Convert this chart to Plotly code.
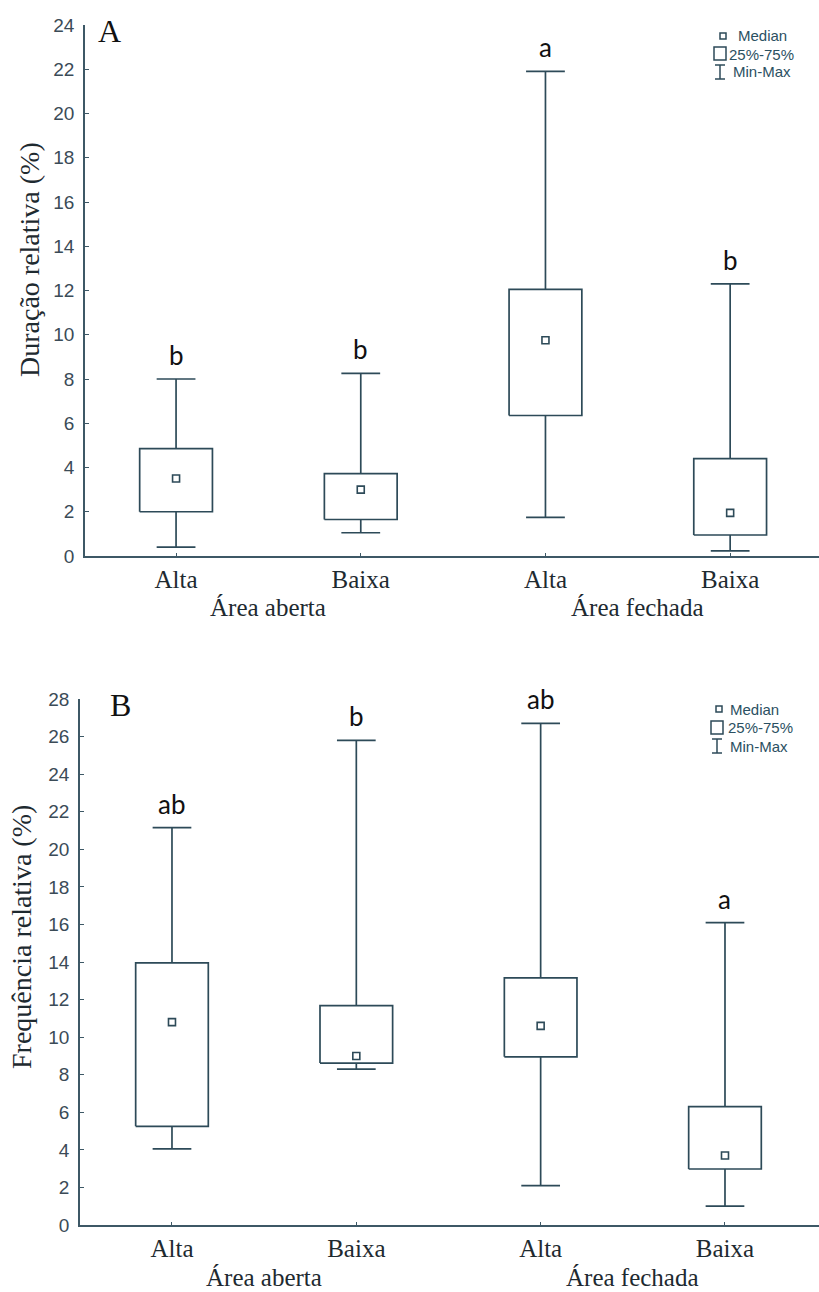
import plotly.graph_objects as go

W, H = 819, 1292

# Shared category labels
categories = ["Alta", "Baixa", "Alta", "Baixa"]
groups = ["Área aberta", "Área fechada"]

# Panel A: Duração relativa (%)
dur_min = [0.4, 1.05, 1.75, 0.23]
dur_q1 = [2.0, 1.65, 6.35, 0.95]
dur_med = [3.5, 3.0, 9.75, 1.95]
dur_q3 = [4.85, 3.72, 12.05, 4.4]
dur_max = [8.0, 8.25, 21.9, 12.3]
dur_letters = ["b", "b", "a", "b"]

# Panel B: Frequência relativa (%)
freq_min = [4.05, 8.3, 2.1, 1.0]
freq_q1 = [5.25, 8.62, 8.95, 2.98]
freq_med = [10.8, 9.0, 10.6, 3.7]
freq_q3 = [13.95, 11.68, 13.15, 6.3]
freq_max = [21.15, 25.8, 26.7, 16.1]
freq_letters = ["ab", "b", "ab", "a"]

LINE = "#2d4a58"
AXIS = "#3d5866"
TICKFONT = dict(family="Liberation Sans, Arial", size=19, color="#3b4b57")
SERIF = "Liberation Serif, Times New Roman"
TXT = "#1e2a30"


def px(x):
    return x / W


def py(y):
    return 1 - y / H


fig = go.Figure()


def add_panel(xa, ya, mins, q1s, meds, q3s, maxs, letters):
    hw, cw = 0.197, 0.105
    bx, by, wx, wy, cx, cy = [], [], [], [], [], []
    for i in range(len(categories)):
        bx += [i - hw, i + hw, i + hw, i - hw, i - hw, None]
        by += [q1s[i], q1s[i], q3s[i], q3s[i], q1s[i], None]
        wx += [i, i, None, i, i, None]
        wy += [mins[i], q1s[i], None, q3s[i], maxs[i], None]
        cx += [i - cw, i + cw, None, i - cw, i + cw, None]
        cy += [mins[i], mins[i], None, maxs[i], maxs[i], None]
    for xs, ys in ((wx, wy), (cx, cy), (bx, by)):
        fig.add_trace(go.Scatter(x=xs, y=ys, xaxis=xa, yaxis=ya, mode="lines",
                                 line=dict(color=LINE, width=1.7),
                                 showlegend=False, hoverinfo="skip"))
    fig.add_trace(go.Scatter(x=list(range(len(categories))), y=meds, xaxis=xa, yaxis=ya,
                             mode="markers",
                             marker=dict(symbol="square-open", size=7,
                                         color=LINE, line=dict(width=1.6)),
                             showlegend=False))
    for i, t in enumerate(letters):
        fig.add_annotation(x=i, y=maxs[i], xref=xa, yref=ya, text=t,
                           showarrow=False, xanchor="center", yanchor="middle", yshift=24,
                           font=dict(family="Lato, Open Sans", size=26, color="#111"))


add_panel("x", "y", dur_min, dur_q1, dur_med, dur_q3, dur_max, dur_letters)
add_panel("x2", "y2", freq_min, freq_q1, freq_med, freq_q3, freq_max, freq_letters)

xcommon = dict(tickmode="array", tickvals=list(range(4)), ticktext=categories,
               showgrid=False, zeroline=False, showline=True, linecolor=AXIS,
               linewidth=1.7, ticks="inside", ticklen=3, tickcolor=AXIS,
               tickfont=dict(family=SERIF, size=25, color=TXT),
               automargin=False, fixedrange=True)
ycommon = dict(showgrid=False, zeroline=False, showline=True, linecolor=AXIS,
               linewidth=1.7, ticks="inside", ticklen=4, tickcolor=AXIS,
               tickfont=TICKFONT, dtick=2, ticklabelstandoff=5,
               automargin=False, fixedrange=True)

fig.update_layout(
    width=W, height=H, margin=dict(l=0, r=0, t=0, b=0, pad=0, autoexpand=False),
    paper_bgcolor="white", plot_bgcolor="white", showlegend=False,
    xaxis=dict(xcommon, domain=[px(85), 1], range=[-0.493, 3.481], anchor="y"),
    yaxis=dict(ycommon, domain=[py(556), py(25)], range=[0, 24], anchor="x"),
    xaxis2=dict(xcommon, domain=[px(80), 1], range=[-0.499, 3.51], anchor="y2"),
    yaxis2=dict(ycommon, domain=[py(1225), py(699)], range=[0, 28], anchor="x2"),
)

# Group labels under the category ticks
for xa, ypix in (("x", 607), ("x2", 1277)):
    for g, xc in zip(groups, (0.5, 2.5)):
        fig.add_annotation(x=xc, xref=xa, y=py(ypix), yref="paper", text=g,
                           showarrow=False, xanchor="center", yanchor="middle",
                           font=dict(family=SERIF, size=25, color=TXT))

# Axis titles
fig.add_annotation(x=px(29), y=py(260), xref="paper", yref="paper",
                   text="Duração relativa (%)", textangle=-90, showarrow=False,
                   xanchor="center", yanchor="middle",
                   font=dict(family=SERIF, size=28, color=TXT))
fig.add_annotation(x=px(21), y=py(937), xref="paper", yref="paper",
                   text="Frequência relativa (%)", textangle=-90, showarrow=False,
                   xanchor="center", yanchor="middle",
                   font=dict(family=SERIF, size=28, color=TXT))

# Panel letters
fig.add_annotation(x=px(109), y=py(31), xref="paper", yref="paper", text="A",
                   showarrow=False, xanchor="center", yanchor="middle",
                   font=dict(family=SERIF, size=32, color="#111"))
fig.add_annotation(x=px(120), y=py(705), xref="paper", yref="paper", text="B",
                   showarrow=False, xanchor="center", yanchor="middle",
                   font=dict(family=SERIF, size=32, color="#111"))


# Key: median marker, quartile box, min-max whisker
def add_key(mx, bxc, rows, tx):
    lf = dict(family="Liberation Sans, Arial", size=15, color="#2b5062")
    shp = dict(xref="paper", yref="paper", line=dict(color=LINE, width=1.5))
    y0, y1, y2 = rows
    fig.add_shape(type="rect", x0=px(mx - 3), x1=px(mx + 3), y0=py(y0 - 3), y1=py(y0 + 3), **shp)
    fig.add_shape(type="rect", x0=px(bxc - 6), x1=px(bxc + 6), y0=py(y1 - 7), y1=py(y1 + 6), **shp)
    fig.add_shape(type="line", x0=px(bxc), x1=px(bxc), y0=py(y2 - 7), y1=py(y2 + 7), **shp)
    fig.add_shape(type="line", x0=px(bxc - 5), x1=px(bxc + 5), y0=py(y2 - 7), y1=py(y2 - 7), **shp)
    fig.add_shape(type="line", x0=px(bxc - 5), x1=px(bxc + 5), y0=py(y2 + 7), y1=py(y2 + 7), **shp)
    for t, yy, xx in zip(("Median", "25%-75%", "Min-Max"), rows, tx):
        fig.add_annotation(x=px(xx), y=py(yy), xref="paper", yref="paper",
                           text=t, showarrow=False, xanchor="left", yanchor="middle",
                           font=lf)


add_key(723, 720, (36, 54, 72), (736, 727, 731))
add_key(719, 717, (709, 728, 746), (728, 726, 728))

fig.write_html("out.html")
